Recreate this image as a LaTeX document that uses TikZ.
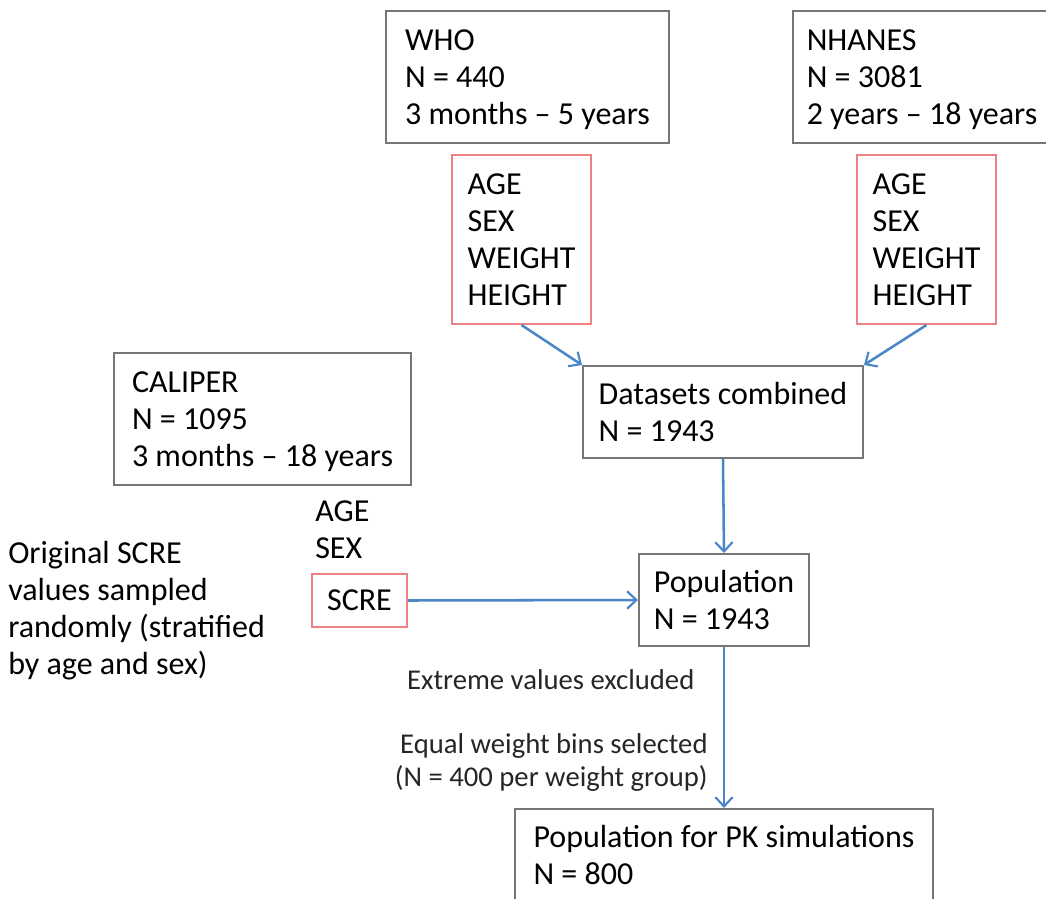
\documentclass[tikz,border=0pt]{standalone}
\usepackage{fontspec}
\setmainfont{Carlito}
\usepackage{tikz}
\usetikzlibrary{arrows.meta,positioning}
\definecolor{boxgray}{RGB}{118,118,118}
\definecolor{varred}{RGB}{238,130,130}
\definecolor{flowblue}{RGB}{74,134,200}
\tikzset{>={Straight Barb[length=7pt,width=13pt,line width=1.6pt]}}
\newcommand{\bigtxt}{\fontsize{24}{27.75}\selectfont}
\newcommand{\smalltxt}{\fontsize{21.5}{24.75}\selectfont}

\begin{document}
\begin{tikzpicture}[x=0.75pt,y=-0.75pt,
              box/.style={draw=boxgray, line width=1.5pt, align=left, anchor=north west, inner sep=0pt, font=\bigtxt,
                          text depth=-3pt},
              varbox/.style={box, draw=varred},
              flow/.style={draw=flowblue, line width=1.9pt, ->},
              note/.style={align=right, font=\smalltxt, text=black!85},
             ]
\useasboundingbox (0,0) rectangle (1046,899);

\node[box, minimum width=212.25pt, minimum height=99pt] (who) at (385,10)
  {WHO\\N = 440\\3 months -- 5 years};
\node[box, minimum width=193.5pt, minimum height=99pt] (nhanes) at (792,10)
  {NHANES\\N = 3081\\2 years -- 18 years};
\node[varbox, minimum width=104.25pt, minimum height=126.75pt] (whovar) at (451,154)
  {AGE\\SEX\\WEIGHT\\HEIGHT};
\node[varbox, minimum width=104.25pt, minimum height=126.75pt] (nhvar) at (856,154)
  {AGE\\SEX\\WEIGHT\\HEIGHT};
\node[box, minimum width=210pt, minimum height=69pt] (comb) at (582,365)
  {Datasets combined\\N = 1943};
\node[box, minimum width=222.75pt, minimum height=99pt] (caliper) at (113,352)
  {CALIPER\\N = 1095\\3 months -- 18 years};
\node[anchor=north west, align=left, inner sep=0pt, font=\bigtxt] (agesex) at (315,500)
  {AGE\\SEX};
\node[varbox, minimum width=71.25pt, minimum height=39.75pt, align=center] (scre) at (311,573)
  {SCRE};
\node[anchor=north west, align=left, inner sep=0pt, font=\bigtxt] (sampled) at (8,541)
  {Original SCRE\\values sampled\\randomly (stratified\\by age and sex)};
\node[box, minimum width=127.5pt, minimum height=69pt] (pop) at (638,553)
  {Population\\N = 1943};
\node[box, minimum width=313.5pt, minimum height=69pt] (pk) at (514,808)
  {Population for PK simulations\\N = 800};

\draw[flow] (whovar.south) -- (comb.north west);
\draw[flow] (nhvar.south) -- (comb.north east);
\draw[flow] (comb.south) -- (pop.north);
\draw[flow] (scre.east) -- (pop.west);
\draw[flow] (pop.south) -- (pk.north)
  node[note, pos=0.2, anchor=east, xshift=-18pt] (excl) {Extreme values excluded}
  node[note, pos=0.72, anchor=east, xshift=-8pt] (bins) {Equal weight bins selected\\(N = 400 per weight group)};
\end{tikzpicture}
\end{document}
